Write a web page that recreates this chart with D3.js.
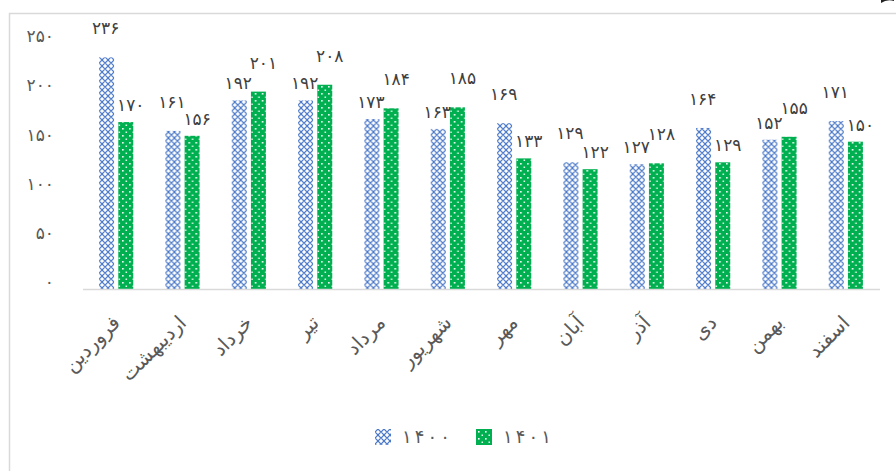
<!DOCTYPE html>
<html>
<head>
<meta charset="utf-8">
<script src="https://cdn.jsdelivr.net/npm/d3@7/dist/d3.min.js"></script>
<style>
  body { margin: 0; background: #fff; }
  svg { display: block; font-family: "DejaVu Sans", sans-serif; }
</style>
</head>
<body>
<div id="chart"></div>
<script>
// months (Persian calendar)
const months = ["فروردین", "اردیبهشت", "خرداد", "تیر", "مرداد", "شهریور",
  "مهر", "آبان", "آذر", "دی", "بهمن", "اسفند"];
const seriesNames = ["1400", "1401"];
const values1400 = [236, 161, 192, 192, 173, 163, 169, 129, 127, 164, 152, 171];
const values1401 = [170, 156, 201, 208, 184, 185, 133, 122, 128, 129, 155, 150];
const yTicks = [0, 50, 100, 150, 200, 250];

const width = 896, height = 471;
const margin = { left: 83, right: 16, top: 43.5, bottom: 182 };
const textColor = "#595959";

// latin digits -> persian digits
const fa = (v) => String(v).replace(/\d/g, (d) => "۰۱۲۳۴۵۶۷۸۹"[+d]);

const svg = d3.select("#chart").append("svg")
  .attr("width", width)
  .attr("height", height);

// patterns for the two series
const defs = svg.append("defs");
const pBlue = defs.append("pattern")
  .attr("id", "pat1400")
  .attr("patternUnits", "userSpaceOnUse")
  .attr("width", 6).attr("height", 6);
pBlue.append("rect").attr("width", 6).attr("height", 6).attr("fill", "#fff");
pBlue.append("path")
  .attr("d", "M3,0 L6,3 L3,6 L0,3 Z")
  .attr("fill", "none")
  .attr("stroke", "#4a78c8")
  .attr("stroke-width", 1.2);

const pGreen = defs.append("pattern")
  .attr("id", "pat1401")
  .attr("patternUnits", "userSpaceOnUse")
  .attr("width", 7).attr("height", 7);
pGreen.append("rect").attr("width", 7).attr("height", 7).attr("fill", "#00b050");
pGreen.append("rect").attr("x", 2).attr("y", 2).attr("width", 1.6).attr("height", 1.6).attr("fill", "#fff");
pGreen.append("rect").attr("x", 5.5).attr("y", 5.5).attr("width", 1.5).attr("height", 1.5).attr("fill", "#e6f7ec");

const colorOf = { "1400": "url(#pat1400)", "1401": "url(#pat1401)" };

// chart frame (light border on top and left)
svg.append("path")
  .attr("d", `M9.5,${height} L9.5,13.5 L${width},13.5`)
  .attr("fill", "none")
  .attr("stroke", "#d9d9d9")
  .attr("stroke-width", 1.5);
svg.append("path")
  .attr("d", "M881,3 Q887,-1 894,1 L894,0 L881,0 Z")
  .attr("fill", "#222");

const x = d3.scaleBand()
  .domain(months)
  .range([margin.left, width - margin.right - 1])
  .paddingInner(0.485)
  .paddingOuter(0.2425);

const xs = d3.scaleBand()
  .domain(seriesNames)
  .range([0, x.bandwidth()])
  .paddingInner(0.22);

const baseY = 289;
const y = d3.scaleLinear().domain([0, 250]).range([baseY, margin.top]);

// y axis (labels only)
const yAxis = svg.append("g")
  .attr("transform", `translate(${margin.left - 26},0)`)
  .call(d3.axisLeft(y).tickValues(yTicks).tickSize(0).tickFormat(fa));
yAxis.select(".domain").remove();
yAxis.selectAll("text")
  .attr("fill", textColor)
  .attr("font-size", 17)
  .attr("font-family", "DejaVu Sans")
  .attr("dy", "-0.1em");

// bars
const rows = months.map((m, i) => ({ month: m, "1400": values1400[i], "1401": values1401[i] }));

const groups = svg.append("g").selectAll("g")
  .data(rows)
  .join("g")
  .attr("transform", (d) => `translate(${x(d.month)},0)`);

groups.selectAll("rect")
  .data((d) => seriesNames.map((s) => ({ s, v: d[s] })))
  .join("rect")
  .attr("x", (d) => xs(d.s))
  .attr("y", (d) => y(d.v))
  .attr("width", xs.bandwidth())
  .attr("height", (d) => baseY - y(d.v))
  .attr("fill", (d) => colorOf[d.s]);

// data labels: taller bar of the pair gets its label set higher
groups.selectAll("text")
  .data((d) => seriesNames.map((s) => {
    const other = seriesNames.find((o) => o !== s);
    return { s, v: d[s], taller: d[s] >= d[other] };
  }))
  .join("text")
  .attr("x", (d) => xs(d.s) + xs.bandwidth() / 2 + (d.s === "1401" ? 5 : -1))
  .attr("y", (d) => y(d.v) - (d.taller ? 29 : 17))
  .attr("dy", "0.35em")
  .attr("text-anchor", "middle")
  .attr("font-size", 17)
  .attr("fill", "#404040")
  .text((d) => fa(d.v));

// x axis baseline
svg.append("line")
  .attr("x1", margin.left).attr("x2", width - margin.right)
  .attr("y1", baseY + 0.5).attr("y2", baseY + 0.5)
  .attr("stroke", "#d9d9d9")
  .attr("stroke-width", 1.5);

// x axis labels
const xAxis = svg.append("g")
  .attr("transform", `translate(0,${baseY})`)
  .call(d3.axisBottom(x).tickSize(0));
xAxis.select(".domain").remove();
xAxis.selectAll("text")
  .attr("fill", textColor)
  .attr("font-size", 20)
  .attr("font-family", "DejaVu Sans")
  .attr("text-anchor", "end")
  .attr("y", 0)
  .attr("dy", 0)
  .attr("transform", "translate(5,35) rotate(-45)");

// legend
const legend = svg.append("g").attr("transform", "translate(375,429)");
const legendX = d3.scaleOrdinal().domain(seriesNames).range([0, 101]);
const li = legend.selectAll("g")
  .data(seriesNames)
  .join("g")
  .attr("transform", (d) => `translate(${legendX(d)},0)`);
li.append("rect")
  .attr("width", 16).attr("height", 16)
  .attr("fill", (d) => colorOf[d]);
li.append("text")
  .attr("x", 27).attr("y", 8).attr("dy", "0.35em")
  .attr("font-size", 18)
  .attr("textLength", 48)
  .attr("lengthAdjust", "spacing")
  .attr("fill", textColor)
  .text((d) => fa(d));
</script>
</body>
</html>
